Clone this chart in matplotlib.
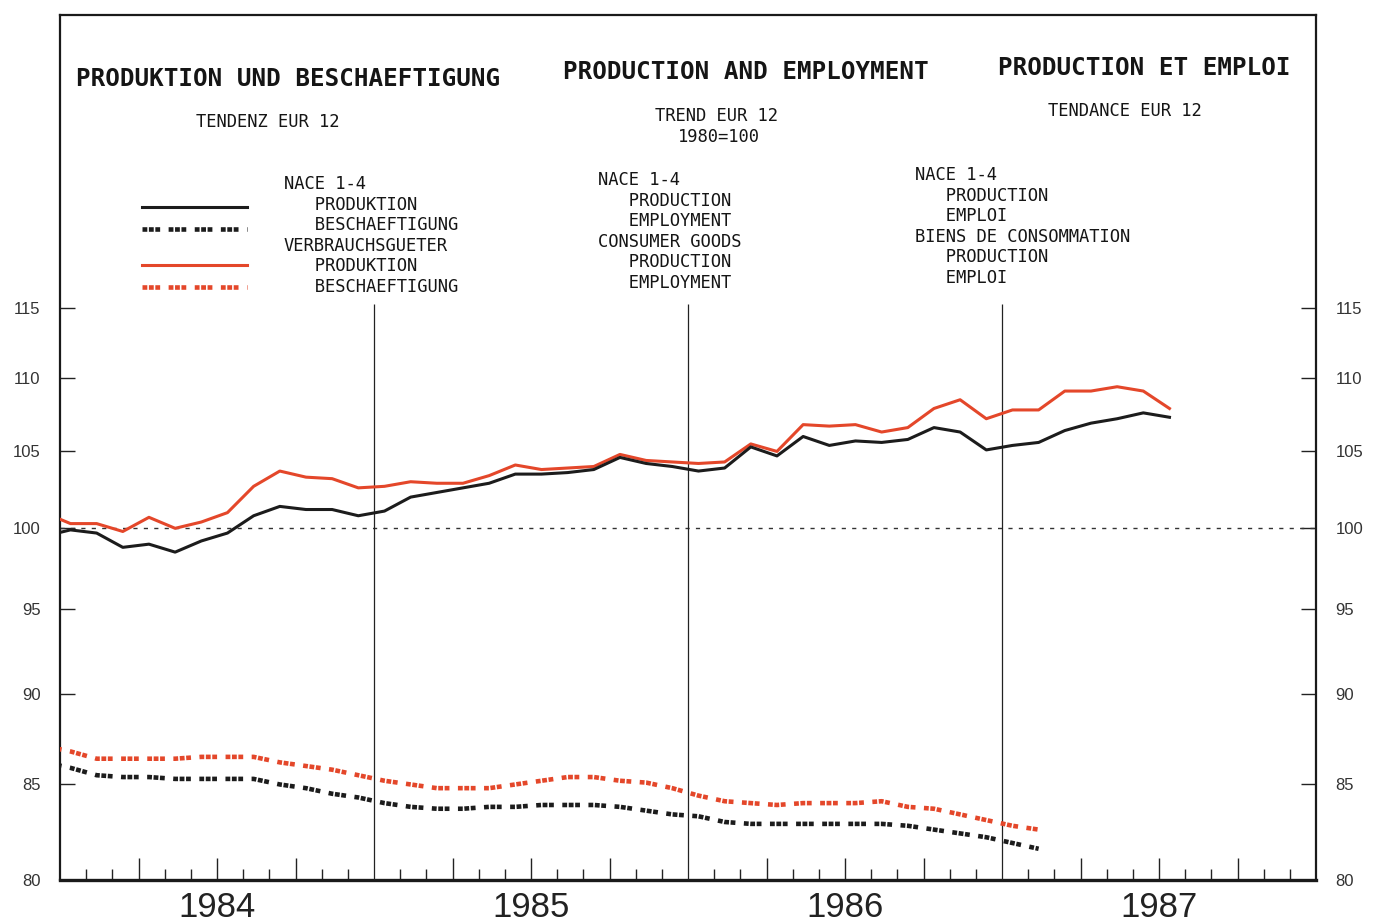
import numpy as np
import matplotlib
matplotlib.use("Agg")
import matplotlib.pyplot as plt
from matplotlib.ticker import FixedLocator, FuncFormatter, NullFormatter, NullLocator

# ---------------- data (monthly, 1980 = 100, first value = Dec 1983) ----------------
start_year, start_month = 1983, 12

nace_production = [99.5, 99.9, 99.7, 98.8, 99.0, 98.5, 99.2, 99.7, 100.8, 101.4, 101.2, 101.2,
                   100.8, 101.1, 102.0, 102.3, 102.6, 102.9, 103.5, 103.5, 103.6, 103.8, 104.6,
                   104.2, 104.0, 103.7, 103.9, 105.3, 104.7, 106.0, 105.4, 105.7, 105.6, 105.8,
                   106.6, 106.3, 105.1, 105.4, 105.6, 106.4, 106.9, 107.2, 107.6, 107.3]
consumer_production = [101.0, 100.3, 100.3, 99.8, 100.7, 100.0, 100.4, 101.0, 102.7, 103.7, 103.3,
                       103.2, 102.6, 102.7, 103.0, 102.9, 102.9, 103.4, 104.1, 103.8, 103.9, 104.0,
                       104.8, 104.4, 104.3, 104.2, 104.3, 105.5, 105.0, 106.8, 106.7, 106.8, 106.3,
                       106.6, 107.9, 108.5, 107.2, 107.8, 107.8, 109.1, 109.1, 109.4, 109.1, 107.9]
nace_employment = [86.2, 85.9, 85.5, 85.4, 85.4, 85.3, 85.3, 85.3, 85.3, 85.0, 84.8, 84.5, 84.3,
                   84.0, 83.8, 83.7, 83.7, 83.8, 83.8, 83.9, 83.9, 83.9, 83.8, 83.6, 83.4, 83.3,
                   83.0, 82.9, 82.9, 82.9, 82.9, 82.9, 82.9, 82.8, 82.6, 82.4, 82.2, 81.9, 81.6]
consumer_employment = [87.1, 86.8, 86.4, 86.4, 86.4, 86.4, 86.5, 86.5, 86.5, 86.2, 86.0, 85.8, 85.5,
                       85.2, 85.0, 84.8, 84.8, 84.8, 85.0, 85.2, 85.4, 85.4, 85.2, 85.1, 84.8, 84.4,
                       84.1, 84.0, 83.9, 84.0, 84.0, 84.0, 84.1, 83.8, 83.7, 83.4, 83.1, 82.8, 82.6]

years = [1984, 1985, 1986, 1987]
y_ticks = [80, 85, 90, 95, 100, 105, 110, 115]

titles = ["PRODUKTION UND BESCHAEFTIGUNG", "PRODUCTION AND EMPLOYMENT", "PRODUCTION ET EMPLOI"]
subtitles = ["TENDENZ EUR 12", "TREND EUR 12\n1980=100", "TENDANCE EUR 12"]
legend_de = ["NACE 1-4", "   PRODUKTION", "   BESCHAEFTIGUNG", "VERBRAUCHSGUETER",
             "   PRODUKTION", "   BESCHAEFTIGUNG"]
legend_en = ["NACE 1-4", "   PRODUCTION", "   EMPLOYMENT", "CONSUMER GOODS",
             "   PRODUCTION", "   EMPLOYMENT"]
legend_fr = ["NACE 1-4", "   PRODUCTION", "   EMPLOI", "BIENS DE CONSOMMATION",
             "   PRODUCTION", "   EMPLOI"]


def month_x(n):
    base = start_year + (start_month - 1) / 12.0
    return base + (np.arange(n) + 0.4) / 12.0


# ---------------- style ----------------
W, H = 1382, 924
plt.rcParams["font.family"] = ["Liberation Sans", "DejaVu Sans"]
MONO = "DejaVu Sans Mono"
BLACK = "#1c1c1c"
RED = "#e4472a"
DASH = (0, (1.05, 0.35, 1.05, 0.35, 1.05, 1.85))

fig = plt.figure(figsize=(W / 100, H / 100), dpi=100)
fig.patch.set_facecolor("white")
ax = fig.add_axes([60 / W, 1 - 880 / H, (1316 - 60) / W, (880 - 15) / H])

ax.set_yscale("log")
ax.set_xlim(1984, 1988)
ax.set_ylim(80, 138.5)

# reference line at 100
ax.axhline(100, color="#333333", lw=1.0, ls=(0, (3, 4.5)), zorder=2)

# year separators
ax.vlines(years[1:], 80, 115.3, color="#222222", lw=0.9, zorder=3)

# series
ax.plot(month_x(len(consumer_production)), consumer_production, color=RED, lw=2.2,
        solid_joinstyle="round", zorder=4)
ax.plot(month_x(len(nace_production)), nace_production, color=BLACK, lw=2.2,
        solid_joinstyle="round", zorder=5)
ax.plot(month_x(len(consumer_employment)), consumer_employment, color=RED, lw=3.3,
        ls=DASH, dash_capstyle="butt", zorder=4)
ax.plot(month_x(len(nace_employment)), nace_employment, color=BLACK, lw=3.3,
        ls=DASH, dash_capstyle="butt", zorder=5)

# y axis ticks on both sides
ax.yaxis.set_major_locator(FixedLocator(y_ticks))
ax.yaxis.set_minor_locator(NullLocator())
ax.yaxis.set_major_formatter(FuncFormatter(lambda v, p: f"{v:.0f}"))
ax.yaxis.set_minor_formatter(NullFormatter())
ax.tick_params(axis="y", which="major", direction="in", length=11, width=1.0,
               left=True, right=True, labelleft=True, labelright=True,
               pad=14, labelsize=12, labelcolor="#333333", color="#222222")

# x axis: month ticks (minor), quarter ticks (major), year labels at mid-year
quarters = [y + q / 4 for y in years for q in range(1, 4)]
months = [y + m / 12 for y in years for m in range(1, 12) if m % 3 != 0]
ax.xaxis.set_major_locator(FixedLocator(quarters))
ax.xaxis.set_minor_locator(FixedLocator(months))
ax.xaxis.set_major_formatter(
    FuncFormatter(lambda v, p: f"{int(v)}" if abs(v - int(v) - 0.5) < 1e-6 else ""))
ax.tick_params(axis="x", which="major", direction="in", length=16, width=1.0,
               pad=8, labelsize=25, labelcolor="#222222", color="#222222")
ax.tick_params(axis="x", which="minor", direction="in", length=8, width=1.0, color="#222222")

for side, lw in [("left", 1.6), ("right", 1.6), ("top", 1.6), ("bottom", 2.4)]:
    ax.spines[side].set_linewidth(lw)
    ax.spines[side].set_color("#1a1a1a")


def fp(x, y):
    return x / W, 1 - y / H


# titles
for txt, (x, y) in zip(titles, [(76, 79), (563, 72), (998, 68)]):
    fig.text(*fp(x, y), txt, family=MONO, weight="bold", fontsize=17.5,
             va="center", ha="left", color="#151515")

# subtitles
fig.text(*fp(196, 122), "TENDENZ EUR 12", family=MONO, fontsize=12.3, va="center", color="#151515")
fig.text(*fp(655, 116), "TREND EUR 12", family=MONO, fontsize=12.3, va="center", color="#151515")
fig.text(*fp(678, 137), "1980=100", family=MONO, fontsize=12.3, va="center", color="#151515")
fig.text(*fp(1048, 111), "TENDANCE EUR 12", family=MONO, fontsize=12.3, va="center", color="#151515")

# legend text blocks
for lines, (x0, y0) in [(legend_de, (284, 184)), (legend_en, (598, 180)), (legend_fr, (915, 175))]:
    for k, line in enumerate(lines):
        fig.text(*fp(x0, y0 + 20.6 * k), line, family=MONO, fontsize=12.3,
                 va="center", ha="left", color="#151515")

# legend keys
key_x = np.array([142, 247]) / W
for yk, col, style, lw in [(207, BLACK, "-", 2.2), (229, BLACK, DASH, 3.3),
                           (265, RED, "-", 2.2), (287, RED, DASH, 3.3)]:
    fig.add_artist(plt.Line2D(key_x, [1 - yk / H] * 2, color=col, lw=lw, ls=style,
                              dash_capstyle="butt", transform=fig.transFigure))

fig.savefig("out.png", dpi=100, facecolor="white")
